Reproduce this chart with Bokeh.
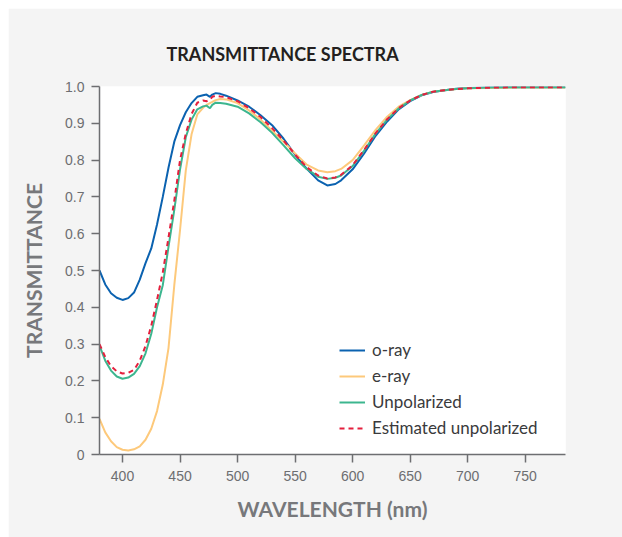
from bokeh.plotting import figure
from bokeh.models import Legend, LegendItem, CustomJSTickFormatter, FixedTicker, Range1d
from bokeh.embed import file_html
from bokeh.resources import INLINE

wavelength = [380, 385, 390, 395, 400, 405, 410, 415, 420, 425, 430, 435, 440, 445, 450,
              455, 460, 465, 470, 473, 476, 478, 481, 485, 490, 500, 510, 520, 530, 540,
              550, 560, 570, 578, 585, 590, 600, 610, 620, 630, 640, 650, 660, 670, 680,
              690, 700, 720, 740, 760, 785]

o_ray = [0.500, 0.462, 0.438, 0.426, 0.420, 0.425, 0.440, 0.475, 0.520, 0.560, 0.625, 0.700,
         0.780, 0.850, 0.895, 0.930, 0.955, 0.972, 0.976, 0.978, 0.972, 0.978, 0.982, 0.980,
         0.975, 0.962, 0.945, 0.922, 0.895, 0.858, 0.815, 0.777, 0.745, 0.731, 0.735, 0.745,
         0.775, 0.818, 0.866, 0.905, 0.938, 0.960, 0.976, 0.985, 0.990, 0.994, 0.996, 0.997,
         0.998, 0.998, 0.998]

e_ray = [0.097, 0.060, 0.036, 0.020, 0.013, 0.011, 0.014, 0.022, 0.040, 0.070, 0.118, 0.190,
         0.290, 0.460, 0.610, 0.772, 0.870, 0.924, 0.942, 0.950, 0.955, 0.958, 0.963, 0.966,
         0.965, 0.955, 0.935, 0.910, 0.880, 0.850, 0.818, 0.788, 0.772, 0.767, 0.770, 0.776,
         0.800, 0.840, 0.882, 0.918, 0.945, 0.963, 0.977, 0.986, 0.990, 0.993, 0.995, 0.996,
         0.997, 0.997, 0.997]

unpolarized = [0.296, 0.255, 0.228, 0.212, 0.206, 0.209, 0.219, 0.240, 0.275, 0.328, 0.400,
               0.460, 0.565, 0.665, 0.775, 0.862, 0.910, 0.938, 0.946, 0.948, 0.941, 0.950,
               0.956, 0.955, 0.953, 0.945, 0.927, 0.903, 0.874, 0.840, 0.805, 0.776, 0.755,
               0.749, 0.752, 0.758, 0.784, 0.826, 0.872, 0.910, 0.940, 0.962, 0.977, 0.986,
               0.990, 0.993, 0.995, 0.997, 0.998, 0.998, 0.998]

estimated = [0.300, 0.265, 0.240, 0.226, 0.220, 0.222, 0.230, 0.255, 0.295, 0.350, 0.420,
             0.495, 0.590, 0.690, 0.800, 0.872, 0.925, 0.956, 0.962, 0.960, 0.964, 0.972,
             0.975, 0.973, 0.971, 0.960, 0.941, 0.917, 0.887, 0.853, 0.815, 0.781, 0.758,
             0.750, 0.753, 0.760, 0.786, 0.828, 0.873, 0.911, 0.941, 0.962, 0.977, 0.986,
             0.990, 0.993, 0.995, 0.997, 0.998, 0.998, 0.998]

x_ticks = [400, 450, 500, 550, 600, 650, 700, 750]
y_ticks = [0, 0.1, 0.2, 0.3, 0.4, 0.5, 0.6, 0.7, 0.8, 0.9, 1.0]
series_names = ["o-ray", "e-ray", "Unpolarized", "Estimated unpolarized"]
chart_title = "TRANSMITTANCE SPECTRA"

AXIS_GRAY = "#6d6e71"

p = figure(width=614, height=529, output_backend="svg", toolbar_location=None,
           x_range=Range1d(380, 785), y_range=Range1d(0, 1.0),
           min_border_left=91, min_border_right=57, min_border_top=78, min_border_bottom=83)
p.margin = (8, 0, 0, 8)
p.border_fill_color = "#f4f4f4"
p.background_fill_color = "white"
p.outline_line_color = None
p.grid.visible = False

p.title.text = chart_title
p.title.align = "left"
p.title.offset = 67
p.title.standoff = 44
p.title.vertical_align = "bottom"
p.title.text_font = "Lato"
p.title.text_font_style = "bold"
p.title.text_font_size = "18px"
p.title.text_color = "#231f20"

for ax in (p.xaxis[0], p.yaxis[0]):
    ax.axis_line_color = AXIS_GRAY
    ax.axis_line_width = 1.5
    ax.major_tick_line_color = AXIS_GRAY
    ax.major_tick_line_width = 1.5
    ax.major_tick_out = 8
    ax.major_tick_in = 0
    ax.minor_tick_line_color = None
    ax.major_label_text_font = "Liberation Sans"
    ax.major_label_text_font_size = "14px"
    ax.major_label_text_color = AXIS_GRAY
    ax.axis_label_text_font = "Lato"
    ax.axis_label_text_font_style = "bold"
    ax.axis_label_text_font_size = "21px"
    ax.axis_label_text_color = "#77787b"

p.xaxis.ticker = FixedTicker(ticks=x_ticks)
p.yaxis.ticker = FixedTicker(ticks=y_ticks)
p.yaxis.formatter = CustomJSTickFormatter(code="return tick == 0 ? '0' : tick.toFixed(1);")
p.xaxis.axis_label = "WAVELENGTH (nm)"
p.yaxis.axis_label = "TRANSMITTANCE"
p.xaxis.major_label_standoff = 8
p.yaxis.major_label_standoff = 7
p.xaxis.axis_label_standoff = 12
p.yaxis.axis_label_standoff = 16

r1 = p.line(wavelength, o_ray, line_color="#0b62b0", line_width=2)
r2 = p.line(wavelength, e_ray, line_color="#fdc97b", line_width=2)
r3 = p.line(wavelength, unpolarized, line_color="#3cb68f", line_width=2)
r4 = p.line(wavelength, estimated, line_color="#e41f3d", line_width=2, line_dash="5 4")

legend = Legend(items=[LegendItem(label=n, renderers=[r]) for n, r in
                       zip(series_names, [r1, r2, r3, r4])],
                location=(240, 16), padding=0, margin=0, spacing=5,
                glyph_width=26, label_standoff=7, label_height=20, glyph_height=20,
                label_text_font="Lato", label_text_font_size="17px",
                label_text_color="#3a3a3c",
                border_line_alpha=0, background_fill_alpha=0)
p.add_layout(legend)

open("out.html", "w").write(file_html(p, INLINE))
